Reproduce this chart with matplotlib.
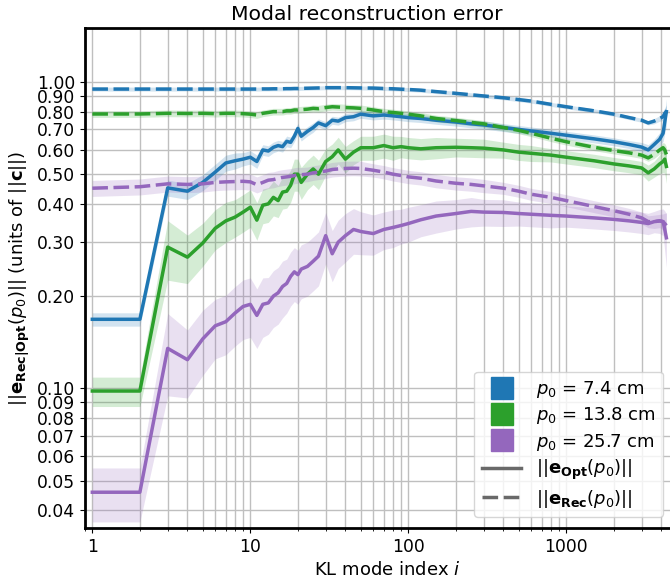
import matplotlib
matplotlib.use("Agg")
import matplotlib.pyplot as plt
from matplotlib.lines import Line2D
import numpy as np

# ------------------------- data -------------------------
modes = [1, 2, 3, 4, 5, 6, 7, 8, 9, 10, 11, 12, 13, 14, 15, 16, 17, 18, 19, 20,
         21, 23, 25, 27, 30, 33, 36, 40, 45, 50, 60, 70, 80, 90, 100, 120, 150, 200,
         250, 300, 400, 500, 600, 800, 1000, 1500, 2000, 2500, 3000, 3300, 3600,
         3900, 4100, 4200, 4300]

# p0 = 7.4 cm
opt_74 = [0.168, 0.168, 0.451, 0.44, 0.47, 0.508, 0.544, 0.553, 0.56, 0.568, 0.55,
          0.60, 0.595, 0.612, 0.62, 0.615, 0.64, 0.635, 0.665, 0.705, 0.665, 0.69,
          0.71, 0.735, 0.72, 0.75, 0.745, 0.765, 0.77, 0.785, 0.775, 0.78, 0.775,
          0.77, 0.765, 0.76, 0.75, 0.74, 0.73, 0.724, 0.71, 0.70, 0.692, 0.68, 0.67,
          0.652, 0.638, 0.625, 0.613, 0.60, 0.625, 0.65, 0.68, 0.74, 0.80]
rec_74 = [0.948, 0.948, 0.948, 0.948, 0.948, 0.948, 0.948, 0.948, 0.948, 0.948,
          0.948, 0.949, 0.949, 0.95, 0.95, 0.95, 0.951, 0.951, 0.952, 0.952, 0.953,
          0.954, 0.955, 0.956, 0.958, 0.958, 0.958, 0.958, 0.957, 0.956, 0.955,
          0.952, 0.95, 0.947, 0.945, 0.94, 0.93, 0.918, 0.908, 0.90, 0.888, 0.876,
          0.866, 0.845, 0.83, 0.805, 0.785, 0.765, 0.75, 0.735, 0.745, 0.76, 0.77,
          0.79, 0.80]
opt_74_sd = [0.05, 0.05, 0.06, 0.06, 0.06, 0.06, 0.06, 0.06, 0.05, 0.05, 0.05,
             0.04, 0.04, 0.04, 0.04, 0.04, 0.04, 0.04, 0.04, 0.04, 0.035, 0.035,
             0.035, 0.03, 0.03, 0.03, 0.03, 0.03, 0.03, 0.03, 0.03, 0.03, 0.03,
             0.03, 0.03, 0.03, 0.03, 0.03, 0.03, 0.03, 0.03, 0.03, 0.03, 0.03,
             0.03, 0.03, 0.03, 0.03, 0.035, 0.04, 0.04, 0.05, 0.06, 0.08, 0.10]
rec_74_sd = [0.015] * 50 + [0.02, 0.02, 0.03, 0.04, 0.05]

# p0 = 13.8 cm
opt_138 = [0.098, 0.098, 0.289, 0.268, 0.298, 0.333, 0.352, 0.362, 0.376, 0.39,
           0.354, 0.396, 0.40, 0.42, 0.41, 0.437, 0.44, 0.46, 0.50, 0.50, 0.47,
           0.50, 0.52, 0.50, 0.55, 0.57, 0.60, 0.56, 0.59, 0.61, 0.61, 0.62, 0.61,
           0.615, 0.61, 0.605, 0.61, 0.612, 0.61, 0.608, 0.60, 0.59, 0.585, 0.577,
           0.568, 0.553, 0.54, 0.532, 0.524, 0.505, 0.52, 0.54, 0.55, 0.56, 0.53]
rec_138 = [0.786, 0.786, 0.79, 0.789, 0.79, 0.788, 0.79, 0.79, 0.788, 0.785, 0.78,
           0.79, 0.795, 0.80, 0.80, 0.80, 0.805, 0.805, 0.81, 0.81, 0.812, 0.815,
           0.82, 0.818, 0.825, 0.83, 0.828, 0.825, 0.823, 0.82, 0.81, 0.80, 0.795,
           0.79, 0.785, 0.775, 0.76, 0.748, 0.738, 0.73, 0.71, 0.695, 0.68, 0.655,
           0.638, 0.612, 0.597, 0.587, 0.577, 0.565, 0.58, 0.60, 0.61, 0.60, 0.58]
opt_138_sd = [0.11, 0.11, 0.22, 0.18, 0.16, 0.15, 0.15, 0.14, 0.14, 0.14, 0.14,
              0.13, 0.13, 0.13, 0.12, 0.12, 0.12, 0.12, 0.12, 0.12, 0.12, 0.11,
              0.11, 0.11, 0.10, 0.10, 0.10, 0.10, 0.09, 0.09, 0.09, 0.09, 0.09,
              0.08, 0.08, 0.08, 0.08, 0.07, 0.07, 0.07, 0.06, 0.06, 0.06, 0.05,
              0.05, 0.05, 0.05, 0.05, 0.05, 0.06, 0.06, 0.07, 0.08, 0.10, 0.12]
rec_138_sd = [0.025] * 50 + [0.03, 0.03, 0.04, 0.05, 0.06]

# p0 = 25.7 cm
opt_257 = [0.0458, 0.0458, 0.135, 0.124, 0.145, 0.16, 0.165, 0.176, 0.185, 0.188,
           0.173, 0.188, 0.19, 0.20, 0.205, 0.215, 0.22, 0.232, 0.24, 0.235, 0.245,
           0.25, 0.26, 0.27, 0.315, 0.275, 0.30, 0.315, 0.33, 0.325, 0.32, 0.33,
           0.335, 0.34, 0.345, 0.355, 0.365, 0.372, 0.378, 0.376, 0.375, 0.372,
           0.37, 0.367, 0.365, 0.36, 0.356, 0.352, 0.348, 0.345, 0.35, 0.352, 0.35,
           0.33, 0.31]
rec_257 = [0.45, 0.455, 0.465, 0.463, 0.465, 0.47, 0.472, 0.473, 0.474, 0.472,
           0.462, 0.47, 0.478, 0.48, 0.485, 0.488, 0.49, 0.492, 0.495, 0.497, 0.498,
           0.50, 0.505, 0.508, 0.512, 0.518, 0.52, 0.522, 0.523, 0.522, 0.515,
           0.508, 0.50, 0.495, 0.49, 0.485, 0.475, 0.467, 0.463, 0.458, 0.45, 0.44,
           0.43, 0.42, 0.41, 0.392, 0.38, 0.37, 0.36, 0.35, 0.35, 0.352, 0.35,
           0.345, 0.34]
opt_257_sd = [0.20, 0.20, 0.30, 0.25, 0.24, 0.22, 0.22, 0.22, 0.22, 0.22, 0.22,
              0.22, 0.21, 0.21, 0.21, 0.21, 0.2, 0.2, 0.2, 0.2, 0.2, 0.2, 0.2, 0.2,
              0.19, 0.19, 0.18, 0.18, 0.17, 0.16, 0.15, 0.14, 0.14, 0.13, 0.13,
              0.12, 0.12, 0.11, 0.11, 0.10, 0.10, 0.09, 0.09, 0.09, 0.08, 0.08,
              0.08, 0.08, 0.08, 0.08, 0.08, 0.09, 0.10, 0.15, 0.20]
rec_257_sd = [0.06] * 20 + [0.055] * 10 + [0.05] * 10 + [0.045] * 10 + [0.05, 0.05, 0.06, 0.08, 0.10]

series = [
    ("$p_0$ = 7.4 cm", "tab:blue", opt_74, opt_74_sd, rec_74, rec_74_sd),
    ("$p_0$ = 13.8 cm", "tab:green", opt_138, opt_138_sd, rec_138, rec_138_sd),
    ("$p_0$ = 25.7 cm", "tab:purple", opt_257, opt_257_sd, rec_257, rec_257_sd),
]

yticks = [0.04, 0.05, 0.06, 0.07, 0.08, 0.09, 0.1, 0.2, 0.3, 0.4, 0.5, 0.6, 0.7,
          0.8, 0.9, 1.0]

# ------------------------- plot -------------------------
plt.rcParams['font.size'] = 12
fig = plt.figure(figsize=(6.7, 5.81), dpi=100)
# right edge of the axes sits past the picture, as in the reference crop
ax = fig.add_axes([0.127, 0.0912, 0.9028, 0.8606])

x = np.array(modes)
for lab, col, opt, opt_sd, rec, rec_sd in series:
    opt = np.array(opt); rec = np.array(rec)
    ax.fill_between(x, opt * (1 - np.array(opt_sd)), opt * (1 + np.array(opt_sd)),
                    color=col, alpha=0.2, lw=0)
    ax.fill_between(x, rec * (1 - np.array(rec_sd)), rec * (1 + np.array(rec_sd)),
                    color=col, alpha=0.2, lw=0)
    ax.plot(x, opt, color=col, lw=2.5)
    ax.plot(x, rec, color=col, lw=2.5, ls=(0, (4.5, 1.6)))

ax.set_xscale('log')
ax.set_yscale('log')
ax.set_xlim(0.9, 6065)
ax.set_ylim(0.035, 1.5)
ax.set_yticks(yticks)
ax.set_yticklabels(["%.2f" % v for v in yticks])
ax.yaxis.set_minor_locator(matplotlib.ticker.NullLocator())
ax.set_xticks([1, 10, 100, 1000])
ax.set_xticklabels(["1", "10", "100", "1000"])
ax.grid(True, which='both', color='0.75', lw=1.0)
ax.set_axisbelow(True)
for sp in ax.spines.values():
    sp.set_linewidth(2)
ax.spines['right'].set_visible(False)
ax.tick_params(labelsize=12.3)

ax.set_title("Modal reconstruction error", fontsize=14.7, x=0.465)
ax.set_xlabel("KL mode index $i$", fontsize=13)
ax.set_ylabel(r"$||\mathbf{e}_{\mathbf{Rec|Opt}}(p_0)||$ (units of $||\mathbf{c}||$)",
              fontsize=13)

handles = [Line2D([], [], color=col, marker='s', ms=16, ls='none') for _, col, *_ in series]
handles += [Line2D([], [], color='dimgray', lw=2.5),
            Line2D([], [], color='dimgray', lw=2.5, ls=(0, (4.5, 1.6)))]
labels = [s[0] for s in series] + [r"$||\mathbf{e}_{\mathbf{Opt}}(p_0)||$",
                                   r"$||\mathbf{e}_{\mathbf{Rec}}(p_0)||$"]
ax.legend(handles, labels, loc='lower right', bbox_to_anchor=(0.955, 0.022),
          borderaxespad=0, fontsize=13, handlelength=2.2, labelspacing=0.3)

fig.savefig("out.png", dpi=100)
